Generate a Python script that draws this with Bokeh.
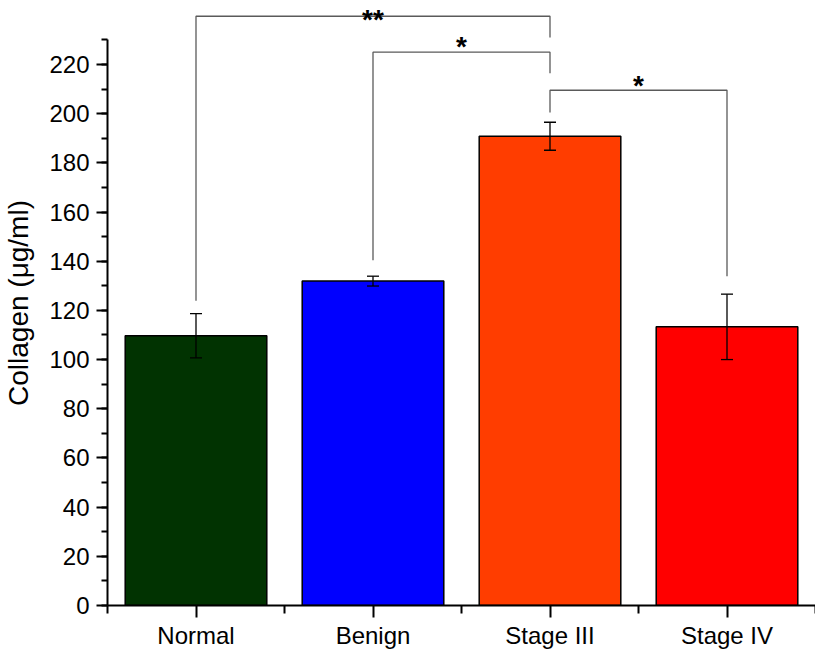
from bokeh.plotting import figure
from bokeh.models import FixedTicker, Whisker, ColumnDataSource, TeeHead, Range1d
from bokeh.core.properties import value
from bokeh.embed import file_html
from bokeh.resources import INLINE

# ---- data ----
categories = ["Normal", "Benign", "Stage III", "Stage IV"]
collagen = [109.7, 131.9, 190.8, 113.3]
error = [9.0, 2.0, 5.7, 13.3]
colors = ["#013301", "#0000FF", "#FF3D00", "#FF0000"]

y_ticks = [0, 20, 40, 60, 80, 100, 120, 140, 160, 180, 200, 220]
y_minor = [0, 10, 20, 30, 40, 50, 60, 70, 80, 90, 100, 110, 120, 130, 140,
           150, 160, 170, 180, 190, 200, 210, 220, 230]

# significance brackets
br_from = [0, 1, 2]
br_to = [2, 2, 3]
br_top = [239.6, 225.0, 209.5]
br_from_end = [123.9, 140.4, 200.5]
br_to_end = [231.0, 216.4, 133.9]
br_label = ["**", "*", "*"]
br_label_y = [238.2, 227.4, 211.6]

FONT = "Liberation Sans"

xs = [i + 1 for i in range(len(categories))]

p = figure(frame_width=708, height=651, x_range=Range1d(0.5, len(categories) + 0.5),
           y_range=Range1d(0, 246), output_backend="svg", toolbar_location=None,
           min_border_left=97, min_border_right=0, min_border_top=0, min_border_bottom=0)
p.outline_line_color = None
p.grid.visible = False
p.background_fill_color = "white"

# bars
src = ColumnDataSource(dict(x=xs, top=collagen, color=colors,
                            upper=[v + e for v, e in zip(collagen, error)],
                            lower=[v - e for v, e in zip(collagen, error)]))
p.vbar(x="x", top="top", width=0.8, bottom=0, fill_color="color",
       line_color="black", line_width=1.5, source=src)

# error bars (drawn over the bars)
wh = Whisker(base="x", upper="upper", lower="lower", source=src, level="annotation",
             line_color="black", line_width=1.3,
             upper_head=TeeHead(size=12, line_color="black", line_width=1.3),
             lower_head=TeeHead(size=12, line_color="black", line_width=1.3))
p.add_layout(wh)

# brackets
bxs, bys, lx = [], [], []
for a, b, t, ea, eb in zip(br_from, br_to, br_top, br_from_end, br_to_end):
    xa, xb = xs[a], xs[b]
    bxs.append([xa, xa, xb, xb])
    bys.append([ea, t, t, eb])
    lx.append((xa + xb) / 2)
p.multi_line(bxs, bys, line_color="#5a5a5a", line_width=1.3)
p.text(x=lx, y=br_label_y, text=br_label, text_align="center",
       text_baseline="alphabetic", text_font=value(FONT), text_font_size="28px",
       text_font_style="bold", text_color="black")

# x axis
xa = p.xaxis[0]
xa.ticker = FixedTicker(ticks=xs, minor_ticks=[x - 0.5 for x in xs] + [xs[-1] + 0.5])
xa.major_label_overrides = {x: c for x, c in zip(xs, categories)}
xa.axis_line_width = 2
xa.axis_line_color = "black"
xa.major_tick_out = 12
xa.major_tick_in = 0
xa.minor_tick_out = 8
xa.minor_tick_in = 0
xa.major_tick_line_width = 2
xa.minor_tick_line_width = 2
xa.major_label_text_font = FONT
xa.major_label_text_font_size = "24px"
xa.major_label_text_color = "black"
xa.major_label_standoff = 4

# y axis
ya = p.yaxis[0]
ya.ticker = FixedTicker(ticks=y_ticks, minor_ticks=y_minor)
ya.bounds = (0, 230)
ya.axis_line_width = 2
ya.axis_line_color = "black"
ya.major_tick_out = 11
ya.major_tick_in = 0
ya.minor_tick_out = 6
ya.minor_tick_in = 0
ya.major_tick_line_width = 2
ya.minor_tick_line_width = 2
ya.major_label_text_font = FONT
ya.major_label_text_font_size = "24px"
ya.major_label_text_color = "black"
ya.major_label_standoff = 7
ya.axis_label = "Collagen (μg/ml)"
ya.axis_label_text_font = FONT
ya.axis_label_text_font_size = "28px"
ya.axis_label_text_font_style = "normal"
ya.axis_label_text_color = "black"
ya.axis_label_standoff = 12

open("out.html", "w").write(file_html(p, INLINE))
